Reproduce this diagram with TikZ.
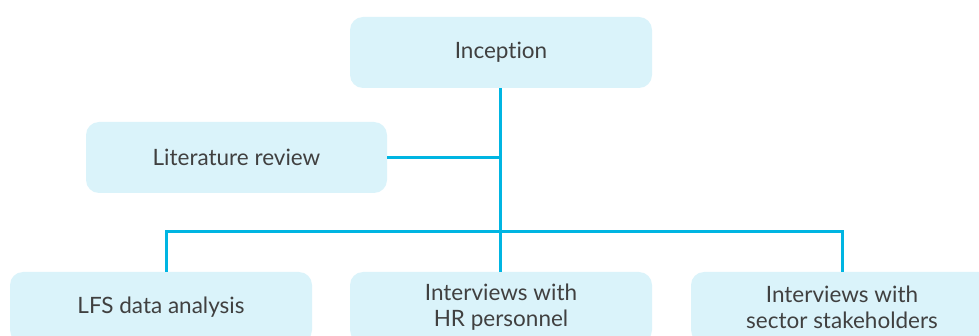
\documentclass[tikz,border=0pt]{standalone}
\usepackage{fontspec}
\setmainfont{Lato}[Ligatures=NoCommon]
\begin{document}
\begin{tikzpicture}[x=1pt,y=-1pt,
  box/.style={fill=boxfill, rounded corners=13pt, minimum width=302pt, minimum height=71pt, inner sep=0pt, text=txt, font=\fontsize{22.5}{26}\selectfont, align=center},
  link/.style={draw=linec, line width=3pt}]
\definecolor{boxfill}{HTML}{DAF3FA}
\definecolor{linec}{HTML}{00B5E2}
\definecolor{txt}{HTML}{404040}
\useasboundingbox (0,0) rectangle (979,336);
\node[box] (inc) at (501,52.5) {Inception};
\node[box, minimum width=301pt] (lit) at (236.5,157.5) {Literature review};
\node[box] (lfs) at (161,307.5) {LFS data analysis};
\node[box] (hr) at (501,307.5) {Interviews with\\HR personnel};
\node[box] (sec) at (842,307.5) {Interviews with\\sector stakeholders};
\coordinate (j1) at (500,157.5);
\coordinate (j2) at (500,232);
\draw[link] (inc.south -| j1) -- (j2);
\draw[link] (lit.east) -- (j1);
\draw[link] (lfs.north -| 166,0) |- (j2) -| (sec.north -| 842,0);
\draw[link] (j2) -- (hr.north -| j2);
\end{tikzpicture}
\end{document}
